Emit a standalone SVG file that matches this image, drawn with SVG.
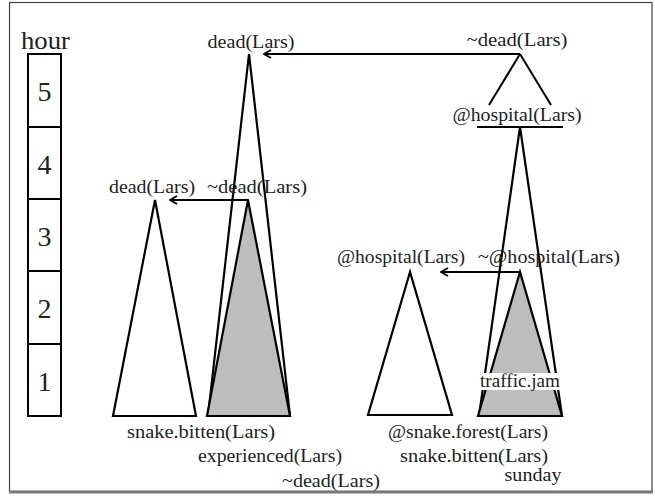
<svg xmlns="http://www.w3.org/2000/svg" width="655" height="498" viewBox="0 0 655 498" font-family="'Liberation Serif', 'Times New Roman', 'DejaVu Serif', serif">
<style>
  text { font-family: 'Liberation Serif', 'Times New Roman', 'DejaVu Serif', serif; font-size: 19px; fill: #222; text-anchor: middle; }
  .num { font-size: 28px; }
  .hour { font-size: 25px; }
  .ln { fill: none; stroke: #000; stroke-width: 2; stroke-linejoin: miter; }
  .tri { fill: #fff; stroke: #000; stroke-width: 2.2; stroke-linejoin: miter; }
  .gray { fill: #bdbdbd; stroke: #000; stroke-width: 2.2; stroke-linejoin: miter; }
  .cell { fill: #fff; stroke: #000; stroke-width: 2; }
  .arr { fill: none; stroke: #000; stroke-width: 2; marker-end: url(#ah); }
</style>
<defs>
  <marker id="ah" viewBox="0 0 10 10" refX="9" refY="5" markerWidth="10" markerHeight="10" markerUnits="userSpaceOnUse" orient="auto">
    <path d="M2,1 L9,5 L2,9" fill="none" stroke="#000" stroke-width="2"/>
  </marker>
</defs>
<rect x="0" y="0" width="655" height="498" fill="#fff"/>
<rect x="9.5" y="2.5" width="642.5" height="489" fill="none" stroke="#444" stroke-width="1.2"/>
<line x1="9" y1="492" x2="653" y2="492" stroke="#777" stroke-width="3"/>

<g id="hour-scale">
  <text class="hour" x="45.5" y="49" textLength="49" lengthAdjust="spacingAndGlyphs">hour</text>
  <rect class="cell" x="28" y="54" width="33" height="73"/>
  <rect class="cell" x="28" y="127" width="33" height="72"/>
  <rect class="cell" x="28" y="199" width="33" height="72"/>
  <rect class="cell" x="28" y="271" width="33" height="73"/>
  <rect class="cell" x="28" y="344" width="33" height="72"/>
  <text class="num" x="44.5" y="101">5</text>
  <text class="num" x="44.5" y="174">4</text>
  <text class="num" x="44.5" y="246">3</text>
  <text class="num" x="44.5" y="318">2</text>
  <text class="num" x="44.5" y="391">1</text>
</g>

<g id="tree-dead-left">
  <polygon class="tri" points="155,200 113,416 196,416"/>
  <text x="152" y="193" textLength="86" lengthAdjust="spacingAndGlyphs">dead(Lars)</text>
  <text x="201" y="438" textLength="148" lengthAdjust="spacingAndGlyphs">snake.bitten(Lars)</text>
</g>

<g id="tree-dead-top">
  <polygon class="tri" points="249,54 208,416 290,416"/>
  <text x="251" y="48" textLength="87" lengthAdjust="spacingAndGlyphs">dead(Lars)</text>
</g>

<g id="tree-notdead-gray">
  <polygon class="gray" points="248,200 207,416 290,416"/>
  <text x="257" y="193" textLength="100" lengthAdjust="spacingAndGlyphs">~dead(Lars)</text>
  <text x="270" y="462" textLength="144" lengthAdjust="spacingAndGlyphs">experienced(Lars)</text>
  <text x="331" y="487" textLength="98" lengthAdjust="spacingAndGlyphs">~dead(Lars)</text>
</g>

<g id="tree-notdead-top">
  <line class="ln" x1="520" y1="54" x2="489" y2="105"/>
  <line class="ln" x1="520" y1="54" x2="551" y2="105"/>
  <text x="517" y="46" textLength="101" lengthAdjust="spacingAndGlyphs">~dead(Lars)</text>
</g>

<g id="tree-hospital-top">
  <text x="517" y="121" textLength="129" lengthAdjust="spacingAndGlyphs">@hospital(Lars)</text>
  <line class="ln" x1="477" y1="127" x2="563" y2="127"/>
  <polygon class="tri" points="520,127 479,416 562,416"/>
</g>

<g id="tree-hospital-left">
  <polygon class="tri" points="410,272 368,415 452,415"/>
  <text x="401" y="263" textLength="128" lengthAdjust="spacingAndGlyphs">@hospital(Lars)</text>
  <text x="468" y="438" textLength="160" lengthAdjust="spacingAndGlyphs">@snake.forest(Lars)</text>
  <text x="474" y="462" textLength="148" lengthAdjust="spacingAndGlyphs">snake.bitten(Lars)</text>
</g>

<g id="tree-nothospital-gray">
  <polygon class="gray" points="520,272 478,416 562,416"/>
  <text x="549" y="263" textLength="142" lengthAdjust="spacingAndGlyphs">~@hospital(Lars)</text>
  <rect x="479" y="373" width="83" height="17" fill="#fff"/>
  <text x="520" y="387" textLength="80" lengthAdjust="spacingAndGlyphs">traffic.jam</text>
  <text x="533" y="481" textLength="57" lengthAdjust="spacingAndGlyphs">sunday</text>
</g>

<g id="connectors">
  <line class="arr" x1="520" y1="54" x2="264" y2="54"/>
  <line class="arr" x1="249" y1="200" x2="170" y2="200"/>
  <line class="arr" x1="521" y1="272" x2="441" y2="272"/>
</g>
</svg>
